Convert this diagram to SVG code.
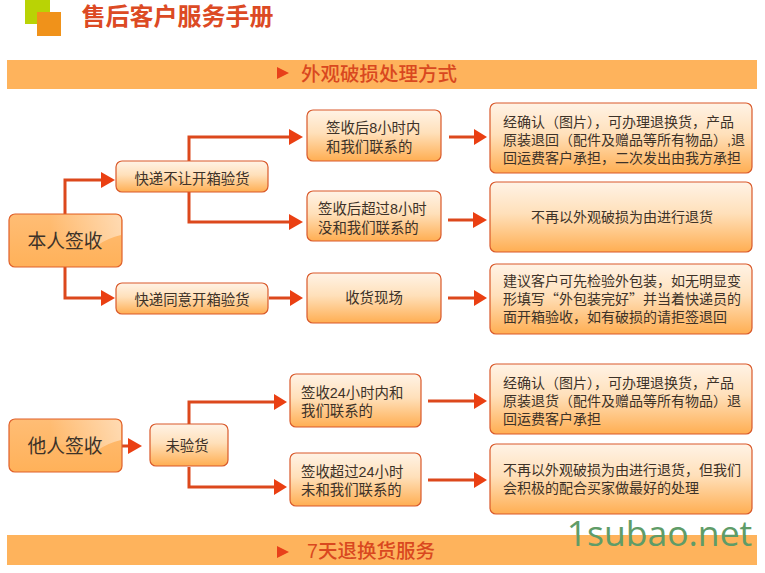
<svg xmlns="http://www.w3.org/2000/svg" width="765" height="573" viewBox="0 0 765 573">
<style>
text{font-family:"Liberation Sans","Noto Sans CJK SC",sans-serif;fill:#3d3228;text-anchor:middle}
.q{font-family:"Noto Sans CJK SC",sans-serif}
.n{fill:url(#g);stroke:#d9592a;stroke-width:1.2}
.m{fill:url(#g2);stroke:#e0602a;stroke-width:1.2}
.s{font-size:14.4px}
.l{font-size:14px}
.a{text-anchor:start}
.big{font-size:18.8px}
.gloss{fill:url(#gl)}
.c path{fill:none;stroke:#dc481c;stroke-width:3}
.c polygon{fill:#ea3f12}
.band{fill:#feb35c}
.h{font-size:19.500px;font-weight:500;fill:#d9481f}
</style>
<defs>
<linearGradient id="g" x1="0" y1="0" x2="0" y2="1"><stop offset="0" stop-color="#fff3e6"/><stop offset=".45" stop-color="#ffe0ba"/><stop offset="1" stop-color="#ffae52"/></linearGradient>
<linearGradient id="g2" x1="0" y1="0" x2="0" y2="1"><stop offset="0" stop-color="#ffbd75"/><stop offset="1" stop-color="#ffb159"/></linearGradient>
<linearGradient id="gl" x1="0" y1="0" x2="1" y2="0"><stop offset="0" stop-color="#fff" stop-opacity="0"/><stop offset="1" stop-color="#fff" stop-opacity=".45"/></linearGradient>
</defs>
<rect x="25" y="0" width="25" height="24" fill="#b9d305"/>
<rect x="37" y="12" width="24" height="24" fill="#f0921a"/>
<text x="177.500" y="25" style="font-size:24px;font-weight:700;fill:#dc4a24">售后客户服务手册</text>
<rect class="band" x="7" y="60" width="750" height="29"/>
<polygon points="277,67 277,79 289,73" fill="#e8401a"/>
<text class="h" x="379" y="81">外观破损处理方式</text>
<rect class="band" x="7" y="535" width="750" height="30"/>
<polygon points="277,546 277,558 289,552" fill="#e8401a"/>
<text class="h" x="371" y="558">7天退换货服务</text>
<g class="c" id="connectors">
<path d="M65 214V180H102"/><polygon points="101,172 115,180 101,188"/>
<path d="M65 267V298H102"/><polygon points="101,290 115,298 101,306"/>
<path d="M189 161V137H290"/><polygon points="289,129 303,137 289,145"/>
<path d="M189 192V222H290"/><polygon points="289,214 303,222 289,230"/>
<path d="M269 298H290"/><polygon points="290,290 303,298 290,306"/>
<path d="M449 137H474"/><polygon points="474,129 487,137 474,145"/>
<path d="M448 220H473"/><polygon points="473,212 487,220 473,228"/>
<path d="M448 298H474"/><polygon points="474,290 487,298 474,306"/>
<path d="M122 446H129"/><polygon points="128,438 142,446 128,454"/>
<path d="M189 424V402H275"/><polygon points="274,394 287,402 274,410"/>
<path d="M189 467V487H275"/><polygon points="274,479 287,487 274,495"/>
<path d="M428 401H475"/><polygon points="474,393 487,401 474,409"/>
<path d="M428 480H475"/><polygon points="474,472 487,480 474,488"/>
</g>
<g id="n1"><rect class="m" x="9" y="214" width="113" height="53" rx="6"/><path class="gloss" d="M50 215H116Q121 215 121 220V235Q108 238 98 245Q75 238 50 240Z"/><text class="big" x="65" y="248">本人签收</text></g>
<g id="n2"><rect class="n" x="116" y="161" width="152" height="31" rx="6"/><text class="s" x="192" y="184">快递不让开箱验货</text></g>
<g id="n3"><rect class="n" x="116" y="283" width="152" height="31" rx="6"/><text class="s" x="192" y="305">快递同意开箱验货</text></g>
<g id="n4"><rect class="n" x="307" y="110" width="134" height="51" rx="6"/><text class="s a" x="326" y="133">签收后8小时内</text><text class="s a" x="326" y="152">和我们联系的</text></g>
<g id="n5"><rect class="n" x="307" y="191" width="134" height="50" rx="6"/><text class="s a" x="318" y="214">签收后超过8小时</text><text class="s a" x="318" y="233">没和我们联系的</text></g>
<g id="n6"><rect class="n" x="307" y="273" width="134" height="50" rx="6"/><text class="s" x="374" y="303">收货现场</text></g>
<g id="n7"><rect class="n" x="490" y="103" width="262" height="70" rx="6"/><text class="l a" x="503" y="127">经确认（图片），可办理退换货，产品</text><text class="l a" x="503" y="145">原装退回（配件及赠品等所有物品）,退</text><text class="l a" x="503" y="163">回运费客户承担，二次发出由我方承担</text></g>
<g id="n8"><rect class="n" x="490" y="182" width="262" height="70" rx="6"/><text class="l" x="622" y="222">不再以外观破损为由进行退货</text></g>
<g id="n9"><rect class="n" x="490" y="264" width="262" height="70" rx="6"/><text class="l a" x="503" y="286">建议客户可先检验外包装，如无明显变</text><text class="l a" x="503" y="304">形填写<tspan class="q">“</tspan>外包装完好<tspan class="q">”</tspan>并当着快递员的</text><text class="l a" x="503" y="322">面开箱验收，如有破损的请拒签退回</text></g>
<g id="n10"><rect class="m" x="9" y="419" width="113" height="53" rx="6"/><path class="gloss" d="M50 420H116Q121 420 121 425V440Q108 443 98 450Q75 443 50 445Z"/><text class="big" x="65" y="453">他人签收</text></g>
<g id="n11"><rect class="n" x="150" y="424" width="78" height="42" rx="6"/><text class="s" x="187" y="451">未验货</text></g>
<g id="n12"><rect class="n" x="290" y="374" width="131" height="53" rx="6"/><text class="s a" x="301" y="398">签收24小时内和</text><text class="s a" x="301" y="416">我们联系的</text></g>
<g id="n13"><rect class="n" x="290" y="453" width="131" height="53" rx="6"/><text class="s a" x="301" y="477">签收超过24小时</text><text class="s a" x="301" y="495">未和我们联系的</text></g>
<g id="n14"><rect class="n" x="490" y="364" width="262" height="70" rx="6"/><text class="l a" x="503" y="388">经确认（图片），可办理退换货，产品</text><text class="l a" x="503" y="406">原装退货（配件及赠品等所有物品）退</text><text class="l a" x="503" y="424">回运费客户承担</text></g>
<g id="n15"><rect class="n" x="490" y="444" width="262" height="70" rx="6"/><text class="l a" x="503" y="475">不再以外观破损为由进行退货，但我们</text><text class="l a" x="503" y="493">会积极的配合买家做最好的处理</text></g>
<text x="659.500" y="546" style="font-size:35.500px;font-family:'Open Sans','Noto Sans',sans-serif;fill:#5f9c68">1subao.net</text>
</svg>
